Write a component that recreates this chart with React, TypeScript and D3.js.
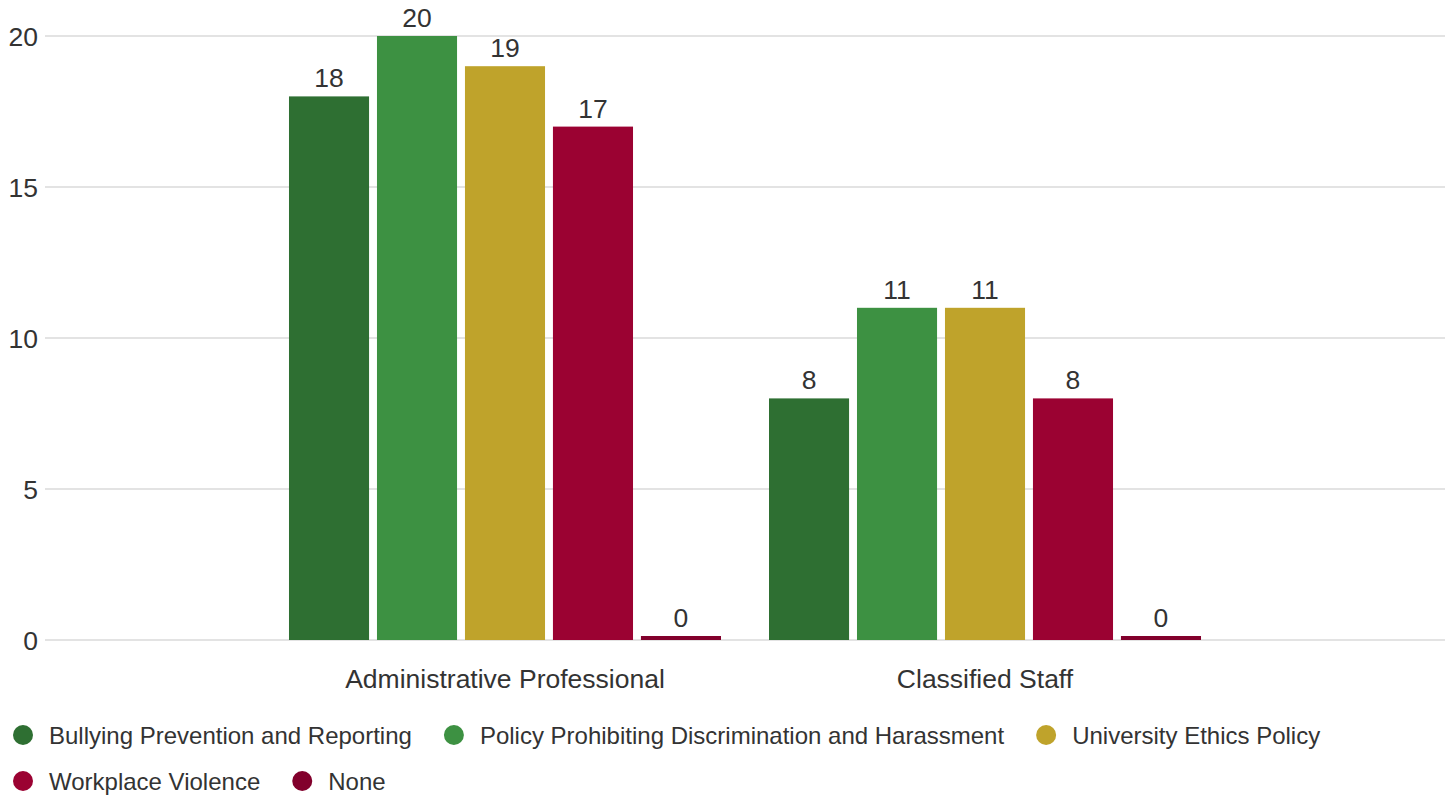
import React, { useEffect, useRef } from "react";
import * as d3 from "d3";

const categories = ["Administrative Professional", "Classified Staff"];
const seriesNames = [
  "Bullying Prevention and Reporting",
  "Policy Prohibiting Discrimination and Harassment",
  "University Ethics Policy",
  "Workplace Violence",
  "None",
];
const seriesColors = ["#2e6f32", "#3d9142", "#bfa32b", "#9b0232", "#82002c"];
const values = [
  [18, 8],
  [20, 11],
  [19, 11],
  [17, 8],
  [0, 0],
];
const yTicks = [0, 5, 10, 15, 20];

const W = 1451;
const H = 799;
const FONT = "'Liberation Sans', Arial, sans-serif";
const BIG = 26.5;

export default function App() {
  const ref = useRef<SVGSVGElement>(null);
  useEffect(() => {
    const svg = d3.select(ref.current);
    svg.selectAll("*").remove();
    const left = 45, right = 1445, top = 36, bottom = 640;
    const y = d3.scaleLinear().domain([0, 20]).range([bottom, top]);
    const x0 = d3.scaleBand().domain(categories).range([left, right]).paddingInner(0.1).paddingOuter(0.5083);
    const x1 = d3.scaleBand().domain(seriesNames).range([0, x0.bandwidth()]).paddingInner(0.09).paddingOuter(0);

    const g = svg.append("g");
    g.selectAll("line.grid").data(yTicks).enter().append("line")
      .attr("x1", left).attr("x2", right)
      .attr("y1", (d) => y(d)).attr("y2", (d) => y(d))
      .attr("stroke", "#e3e3e3").attr("stroke-width", 2);
    g.selectAll("text.ytick").data(yTicks).enter().append("text")
      .attr("x", 38).attr("y", (d) => y(d) + 9.5)
      .attr("text-anchor", "end").attr("font-family", FONT).attr("font-size", BIG).attr("fill", "#333")
      .text((d) => String(d));

    categories.forEach((c, ci) => {
      seriesNames.forEach((s, si) => {
        const v = values[si][ci];
        const bx = (x0(c) as number) + (x1(s) as number);
        const bw = x1.bandwidth();
        const h = Math.max(bottom - y(v), 4);
        g.append("rect").attr("x", bx).attr("y", bottom - h).attr("width", bw).attr("height", h)
          .attr("fill", seriesColors[si]);
        g.append("text").attr("x", bx + bw / 2).attr("y", bottom - h - 9)
          .attr("text-anchor", "middle").attr("font-family", FONT).attr("font-size", BIG).attr("fill", "#333")
          .text(String(v));
      });
      g.append("text").attr("x", (x0(c) as number) + x0.bandwidth() / 2).attr("y", 688)
        .attr("text-anchor", "middle").attr("font-family", FONT).attr("font-size", BIG).attr("fill", "#333")
        .text(c);
    });

    // legend
    const rows = [[0, 1, 2], [3, 4]];
    const rowY = [735, 781];
    rows.forEach((row, ri) => {
      let cx = 13;
      row.forEach((si) => {
        const lg = g.append("g");
        lg.append("circle").attr("cx", cx + 10).attr("cy", rowY[ri]).attr("r", 10).attr("fill", seriesColors[si]);
        const t = lg.append("text").attr("x", cx + 36).attr("y", rowY[ri] + 8.5)
          .attr("font-family", FONT).attr("font-size", 24).attr("fill", "#333").text(seriesNames[si]);
        const tw = (t.node() as SVGTextElement).getComputedTextLength();
        cx = cx + 36 + tw + 32;
      });
    });
  }, []);
  return <svg ref={ref} width={W} height={H} style={{ position: "absolute", left: 0, top: 0, background: "#fff" }} />;
}
